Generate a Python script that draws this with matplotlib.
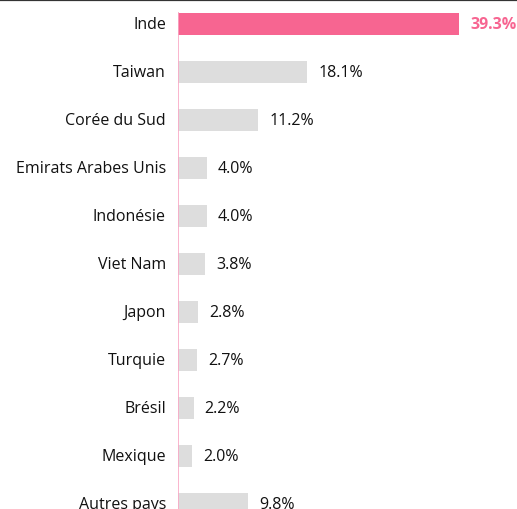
import matplotlib
matplotlib.use("Agg")
import matplotlib.pyplot as plt
from matplotlib.lines import Line2D

categories = ["Inde", "Taiwan", "Corée du Sud", "Emirats Arabes Unis", "Indonésie",
              "Viet Nam", "Japon", "Turquie", "Brésil", "Mexique", "Autres pays"]
values = [39.3, 18.1, 11.2, 4.0, 4.0, 3.8, 2.8, 2.7, 2.2, 2.0, 9.8]

plt.rcParams['font.family'] = ['Open Sans', 'DejaVu Sans']

W, H = 517, 510
fig = plt.figure(figsize=(W / 100, H / 100), dpi=100)
ax = fig.add_axes([178 / W, 0, 1 - 178 / W, 1])

pink = "#F76591"
gray = "#DDDDDD"
colors = [pink] + [gray] * (len(values) - 1)
ypos = list(range(len(categories)))
ax.barh(ypos, values, height=0.46, color=colors, zorder=2)

ax.set_ylim(10.10, -0.52)
ax.set_xlim(0, 47.4)
ax.vlines(0, -0.24, 10.10, color="#F9A8C5", linewidth=1.2, zorder=3)

for i, (c, v) in enumerate(zip(categories, values)):
    ax.annotate(c, xy=(0, i), xytext=(-12, 0), textcoords="offset pixels",
                ha="right", va="center", fontsize=11.5, color="#111111")
    if i == 0:
        ax.annotate(f"{v:.1f}%", xy=(v, i), xytext=(11, 0), textcoords="offset pixels",
                    ha="left", va="center", fontsize=11.5, color=pink, fontweight="bold")
    else:
        ax.annotate(f"{v:.1f}%", xy=(v, i), xytext=(11, 0), textcoords="offset pixels",
                    ha="left", va="center", fontsize=11.5, color="#111111")

ax.axis("off")
fig.add_artist(Line2D([0, 1], [1 - 1 / H, 1 - 1 / H], transform=fig.transFigure,
                      color="#333333", linewidth=1.6))

fig.savefig("out.png", dpi=100)
